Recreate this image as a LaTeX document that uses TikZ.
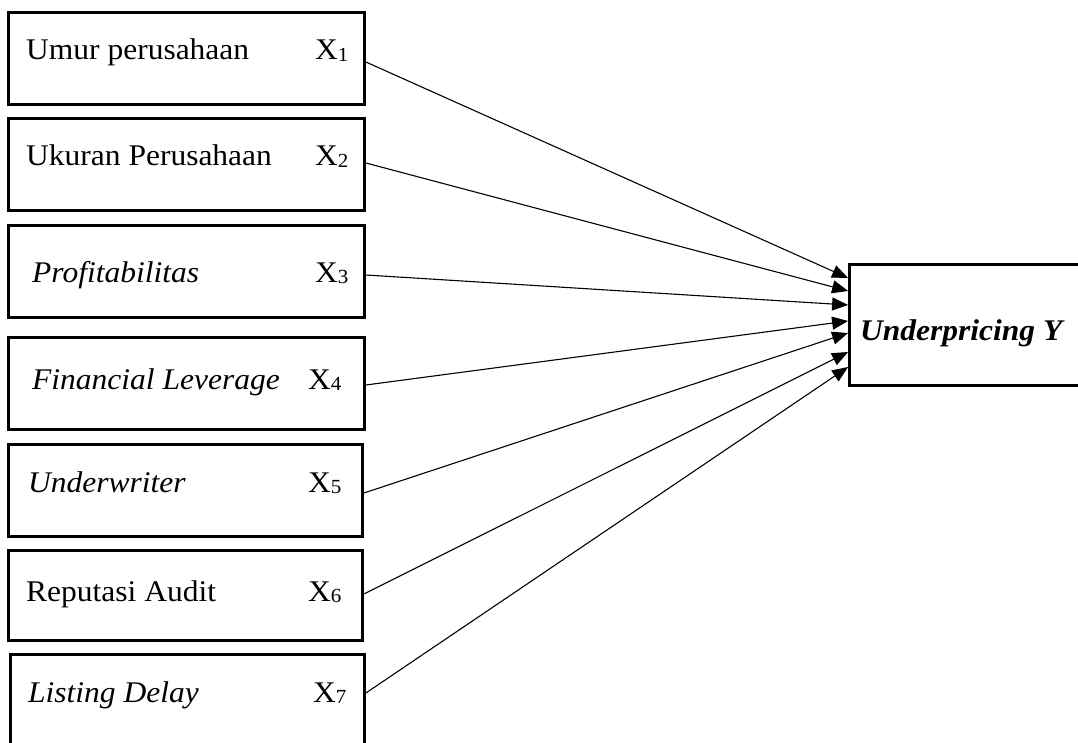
\documentclass[tikz,border=0pt]{standalone}
\usepackage{fontspec}
\setmainfont[FakeStretch=1.05]{Liberation Serif}
\usetikzlibrary{arrows.meta,calc}
\newcommand{\xsub}[1]{X\raisebox{-1.5pt}{\fontsize{20}{20}\selectfont #1}}
\begin{document}
\begin{tikzpicture}[x=1pt,y=-1pt,
  varbox/.style={draw, line width=2.8pt, inner sep=0pt},
  lbl/.style={anchor=base west, inner sep=0pt, font=\fontsize{30}{30}\selectfont},
  link/.style={line width=1.1pt, -{Triangle[length=16pt,width=13pt]}}]
\useasboundingbox (0,0) rectangle (1078,743);
\clip (0,0) rectangle (1078,743);

% independent variable boxes
\node[varbox, minimum width=356pt, minimum height=92pt] (b1) at (186.5,58.5) {};
\node[varbox, minimum width=356pt, minimum height=92pt] (b2) at (186.5,164.5) {};
\node[varbox, minimum width=356pt, minimum height=92pt] (b3) at (186.5,271.5) {};
\node[varbox, minimum width=356pt, minimum height=92pt] (b4) at (186.5,383.5) {};
\node[varbox, minimum width=354pt, minimum height=92pt] (b5) at (185.5,490.5) {};
\node[varbox, minimum width=354pt, minimum height=90pt] (b6) at (185.5,595.5) {};
\node[varbox, minimum width=354pt, minimum height=114pt] (b7) at (187.5,711.5) {};

% dependent variable box
\node[varbox, minimum width=259pt, minimum height=121pt] (y) at (979,325) {};

% labels
\node[lbl] (t1) at (26,60) {Umur perusahaan};
\node[lbl] (x1) at (315,60) {\xsub{1}};
\node[lbl] (t2) at (26,166) {Ukuran Perusahaan};
\node[lbl] (x2) at (315,166) {\xsub{2}};
\node[lbl] (t3) at (32,282) {\itshape Profitabilitas};
\node[lbl] (x3) at (315,282) {\xsub{3}};
\node[lbl] (t4) at (32,389) {\itshape Financial Leverage};
\node[lbl] (x4) at (308,389) {\xsub{4}};
\node[lbl] (t5) at (28,492) {\itshape Underwriter};
\node[lbl] (x5) at (308,492) {\xsub{5}};
\node[lbl] (t6) at (26,601) {Reputasi Audit};
\node[lbl] (x6) at (308,601) {\xsub{6}};
\node[lbl] (t7) at (28,702) {\itshape Listing Delay};
\node[lbl] (x7) at (313,702) {\xsub{7}};
\node[lbl] (ty) at (860,340) {\bfseries\itshape Underpricing Y};

% arrows into the dependent variable
\draw[link] ($(b1.east)+(0,3.5)$)  -- ($(y.west)+(0,-47)$);
\draw[link] ($(b2.east)+(0,-1.5)$) -- ($(y.west)+(0,-34)$);
\draw[link] ($(b3.east)+(0,3.5)$)  -- ($(y.west)+(0,-20)$);
\draw[link] ($(b4.east)+(0,1.5)$)  -- ($(y.west)+(0,-4)$);
\draw[link] ($(b5.east)+(0,2.5)$)  -- ($(y.west)+(0,8)$);
\draw[link] ($(b6.east)+(0,-1.5)$) -- ($(y.west)+(0,27)$);
\draw[link] ($(b7.east)+(0,-18.5)$) -- ($(y.west)+(0,42)$);
\end{tikzpicture}
\end{document}
